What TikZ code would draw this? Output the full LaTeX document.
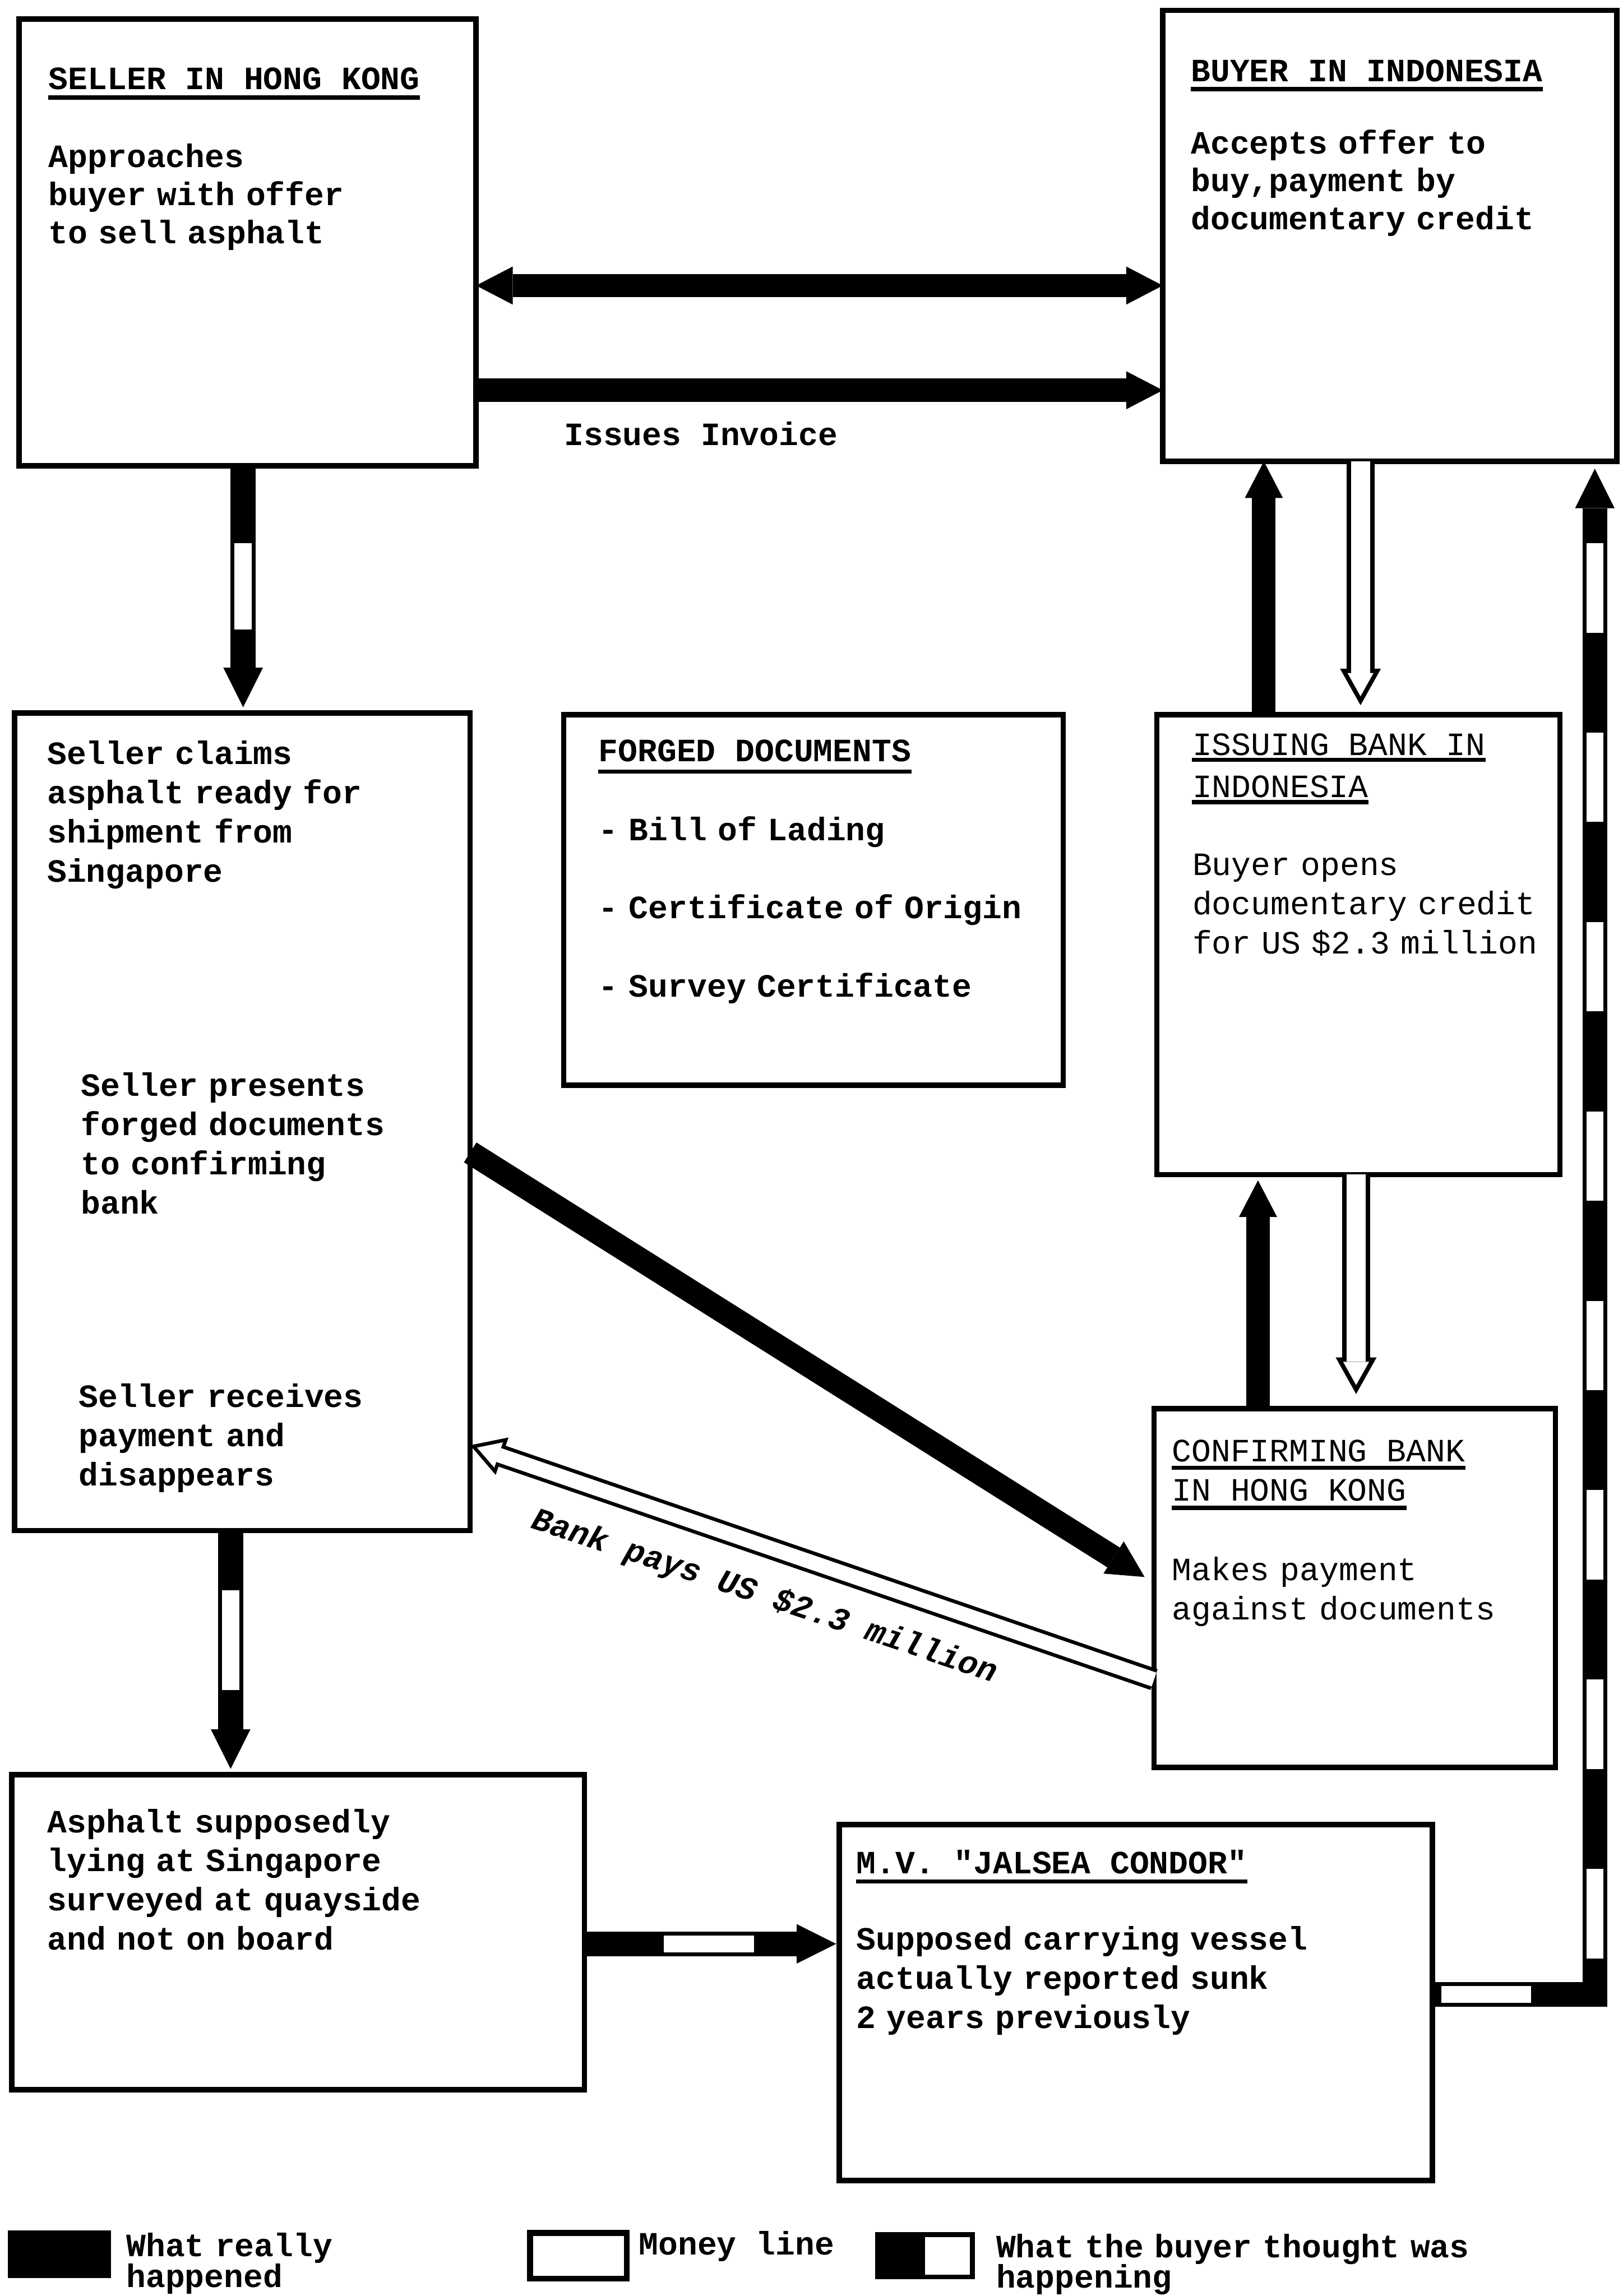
\documentclass[tikz,border=0pt]{standalone}
\usepackage{fontspec}
\setmainfont{Liberation Mono}[Ligatures=TeXOff]
\usetikzlibrary{arrows.meta,calc}

% underline a one-line title node: #1 node name, #2 drop below the baseline
\newcommand\ulin[2]{\draw[uline] ([yshift=-#2]#1.base west) -- ([yshift=-#2]#1.base east);}

\begin{document}
\begin{tikzpicture}[x=0.025cm,y=-0.025cm,
  box/.style={draw,line width=0.09cm,rectangle,anchor=north west,inner sep=0pt,outer sep=0pt},
  txt/.style={anchor=base west,inner sep=0pt,text width=11cm,align=left,
    font=\fontsize{15.8pt}{19.05pt}\selectfont\bfseries},
  txttop/.style={txt,font=\fontsize{15.8pt}{18.4pt}\selectfont\bfseries},
  txtlight/.style={txt,font=\fontsize{15.8pt}{19.05pt}\selectfont},
  ttl/.style={anchor=base west,inner sep=0pt,font=\fontsize{15.8pt}{19pt}\selectfont\bfseries},
  ttllight/.style={ttl,font=\fontsize{15.8pt}{19pt}\selectfont},
  uline/.style={line width=0.07cm},
  real/.style={line width=0.4cm,-{Triangle[width=0.65cm,length=0.625cm,line width=0pt]}},
  realboth/.style={line width=0.4cm,
    {Triangle[width=0.65cm,length=0.625cm,line width=0pt]}-{Triangle[width=0.65cm,length=0.625cm,line width=0pt]}},
  moneyout/.style={line width=0.475cm,-{Triangle[width=0.7cm,length=0.625cm,line width=0pt]}},
  moneyin/.style={color=white,line width=0.325cm,shorten >=#1,
    -{Triangle[width=0.444cm,length=0.3965cm,line width=0pt]}},
  moneyin/.default=0.1535cm,
  moneyout2/.style={line width=0.375cm,-{Triangle[width=0.675cm,length=0.575cm,line width=0pt]}},
  moneyin2/.style={color=white,line width=0.25cm,shorten >=0.1235cm,
    -{Triangle[width=0.4565cm,length=0.389cm,line width=0pt]}},
  thought/.style={line width=0.425cm,line join=miter,-{Triangle[width=0.675cm,length=0.675cm,line width=0pt]}},
  gap/.style={color=white,line width=0.29cm},
]
\useasboundingbox (0,0) rectangle (1108,1568);
\fill[white] (0,0) rectangle (1108,1568);

% ---------- boxes ----------
\node[box,minimum width=7.8cm,minimum height=7.625cm] (hk) at (13,13) {};
\node[box,minimum width=7.75cm,minimum height=7.7cm] (buyer) at (794,7) {};
\node[box,minimum width=7.775cm,minimum height=13.95cm] (claims) at (10,487) {};
\node[box,minimum width=8.525cm,minimum height=6.325cm] (forged) at (385,488) {};
\node[box,minimum width=6.875cm,minimum height=7.85cm] (issuing) at (790,488) {};
\node[box,minimum width=6.85cm,minimum height=6.125cm] (confirm) at (788,962) {};
\node[box,minimum width=9.775cm,minimum height=5.375cm] (asphalt) at (8,1212) {};
\node[box,minimum width=10.125cm,minimum height=6.075cm] (vessel) at (573,1246) {};

% ---------- box texts ----------
\node[ttl] (hkT) at (33,61) {SELLER IN HONG KONG};
\ulin{hkT}{0.14cm}
\node[txttop] (hkB) at (33,114.4) {Approaches\\buyer with offer\\to sell asphalt};

\node[ttl] (buyerT) at (813,55.7) {BUYER IN INDONESIA};
\ulin{buyerT}{0.13cm}
\node[txttop] (buyerB) at (813,105) {Accepts offer to\\buy,payment by\\documentary credit};

\node[ttl] (invoiceL) at (385,304.3) {Issues Invoice};

\node[txt] (claimsA) at (32,521.8) {Seller claims\\asphalt ready for\\shipment from\\Singapore};
\node[txt] (claimsB) at (55,748.7) {Seller presents\\forged documents\\to confirming\\bank};
\node[txt] (claimsC) at (53.6,961) {Seller receives\\payment and\\disappears};

\node[ttl] (forgedT) at (408.5,520) {FORGED DOCUMENTS};
\ulin{forgedT}{0.17cm}
\node[txt,font=\fontsize{15.8pt}{37.95pt}\selectfont\bfseries] (forgedB) at (408.5,574)
  {- Bill of Lading\\- Certificate of Origin\\- Survey Certificate};

\node[ttllight] (issuingT1) at (814,516) {ISSUING BANK IN};
\ulin{issuingT1}{0.075cm}
\node[ttllight] (issuingT2) at (814,544.4) {INDONESIA};
\ulin{issuingT2}{0.085cm}
\node[txtlight] (issuingB) at (814,597.7) {Buyer opens\\documentary credit\\for US \$2.3 million};

\node[ttllight] (confirmT1) at (800,998.2) {CONFIRMING BANK};
\ulin{confirmT1}{0.105cm}
\node[ttllight] (confirmT2) at (800,1025) {IN HONG KONG};
\ulin{confirmT2}{0.12cm}
\node[txtlight] (confirmB) at (800,1079.3) {Makes payment\\against documents};

\node[txt] (asphaltB) at (32.2,1251.4) {Asphalt supposedly\\lying at Singapore\\surveyed at quayside\\and not on board};

\node[ttl] (vesselT) at (584.5,1279.4) {M.V. "JALSEA CONDOR"};
\ulin{vesselT}{0.14cm}
\node[txt] (vesselB) at (584.5,1331.7) {Supposed carrying vessel\\actually reported sunk\\2 years previously};

% ---------- lanes for the connectors ----------
\coordinate (rowOffer) at (0,195);
\coordinate (rowInvoice) at (0,266.5);
\coordinate (laneHK) at (166,0);
\coordinate (laneUpA) at (863,0);
\coordinate (laneDownA) at (929,0);
\coordinate (laneUpB) at (859,0);
\coordinate (laneDownB) at (926,0);
\coordinate (rowPresent) at (0,787);
\coordinate (rowDocs) at (0,1081);
\coordinate (rowPay) at (0,1147);
\coordinate (rowPaid) at (0,987);
\coordinate (laneClaims) at (157.5,0);
\coordinate (rowShip) at (0,1327.5);
\coordinate (turn) at (1089,1362);

% ---------- what really happened ----------
\draw[realboth] (hk.east |- rowOffer) -- (buyer.west |- rowOffer);
\draw[real] (hk.east |- rowInvoice) -- (buyer.west |- rowInvoice);
\draw[real] (issuing.north -| laneUpA) -- (buyer.south -| laneUpA);
\draw[real,shorten >=0.1cm] (confirm.north -| laneUpB) -- (issuing.south -| laneUpB);
\draw[real,shorten >=0.19cm] (claims.east |- rowPresent) -- (confirm.west |- rowDocs);

% ---------- money lines ----------
\draw[moneyout,shorten >=0.16cm] (buyer.south -| laneDownA) -- (issuing.north -| laneDownA);
\draw[moneyin=0.3135cm] (buyer.south -| laneDownA) -- (issuing.north -| laneDownA);
\draw[moneyout,shorten >=0.25cm] (issuing.south -| laneDownB) -- (confirm.north -| laneDownB);
\draw[moneyin=0.4035cm] (issuing.south -| laneDownB) -- (confirm.north -| laneDownB);
\draw[moneyout2] (confirm.west |- rowPay) -- (claims.east |- rowPaid);
\draw[moneyin2] (confirm.west |- rowPay) -- (claims.east |- rowPaid);
\node[rotate=-18.5,inner sep=0pt,font=\fontsize{15.8pt}{19pt}\selectfont\bfseries\itshape]
  (payL) at (522,1090.5) {Bank pays US \$2.3 million};

% ---------- what the buyer thought was happening ----------
\draw[thought,shorten >=0.1cm] (hk.south -| laneHK) -- (claims.north -| laneHK);
\draw[gap,shorten <=1.325cm,shorten >=1.425cm] (hk.south -| laneHK) -- (claims.north -| laneHK);
\draw[thought,shorten >=0.1cm] (claims.south -| laneClaims) -- (asphalt.north -| laneClaims);
\draw[gap,shorten <=1.025cm,shorten >=1.45cm] (claims.south -| laneClaims) -- (asphalt.north -| laneClaims);
\draw[thought,shorten >=0.05cm] (asphalt.east |- rowShip) -- (vessel.west |- rowShip);
\draw[gap,shorten <=1.35cm,shorten >=1.45cm] (asphalt.east |- rowShip) -- (vessel.west |- rowShip);
\draw[thought,shorten >=0.125cm] (vessel.east |- turn) -- (turn) -- (buyer.south -| turn);
\draw[gap,shorten >=0.125cm,dash pattern=on 1.525cm off 1.7075cm,dash phase=3.0775cm]
  (vessel.east |- turn) -- (turn) -- (buyer.south -| turn);

% ---------- key ----------
\node[box,fill=black,minimum width=1.675cm,minimum height=0.725cm] (keyReal) at (7,1525) {};
\node[txt,font=\fontsize{15.8pt}{14.9pt}\selectfont\bfseries] (keyRealT) at (86,1541) {What really\\happened};
\node[box,line width=0.1cm,minimum width=1.65cm,minimum height=0.775cm] (keyMoney) at (362,1525) {};
\node[ttl] (keyMoneyT) at (436,1540) {Money line};
\node[box,line width=0.08cm,minimum width=1.625cm,minimum height=0.725cm,
  path picture={\fill[black] (path picture bounding box.south west) rectangle (path picture bounding box.north);}]
  (keyThought) at (599,1526) {};
\node[txt,font=\fontsize{15.8pt}{14.9pt}\selectfont\bfseries] (keyThoughtT) at (680,1541.6) {What the buyer thought was\\happening};
\end{tikzpicture}
\end{document}
